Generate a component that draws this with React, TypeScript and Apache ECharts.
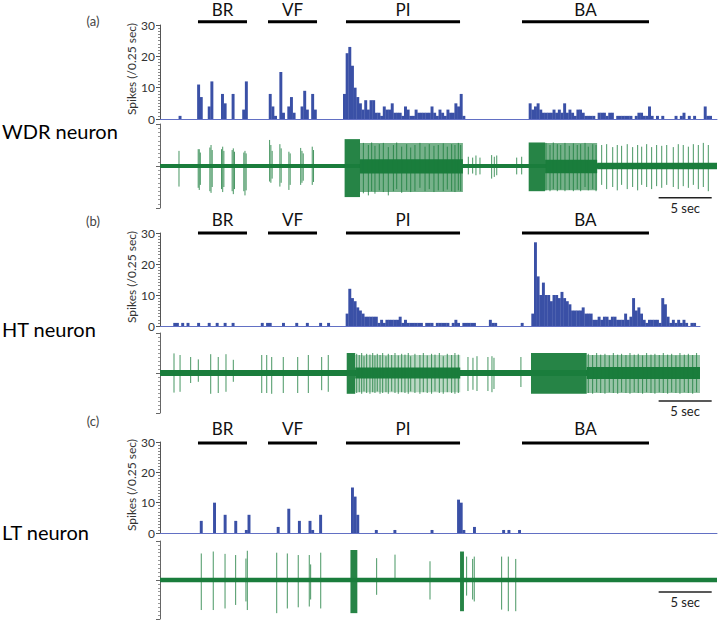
import React, { useEffect, useRef } from 'react';
import * as echarts from 'echarts';

// ---------- data ----------
const BIN_SEC = 0.25;
const stimNames = ['BR', 'VF', 'PI', 'BA'];
const stimStart = [3.58, 10.18, 17.53, 34.12];
const stimEnd = [8.2, 14.8, 28.28, 46.09];
const scaleBarStart = 47.0;
const scaleBarEnd = 52.0;
const scaleBarLabel = '5 sec';
const panelLetters = ['(a)', '(b)', '(c)'];
const neuronNames = ['WDR neuron', 'HT neuron', 'LT neuron'];
const yAxisTitle = 'Spikes (/0.25 sec)';
const recordLength = [52.5, 50.9, 52.5];
const spikeAxisMax = 30;
const spikeAxisStep = 10;

// histogram runs: [first bin index, counts per 0.25 s bin]
const wdrRuns: [number, number[]][] = [
  [7, [1]], [14, [11, 7]], [18, [4, 12]], [23, [8, 5]], [27, [8]], [31, [3, 12]],
  [41, [8, 4, 1]], [45, [15, 2]], [48, [4, 7, 2]], [53, [4, 9, 3]], [57, [8, 3]],
  [69, [8, 21, 23, 17, 10, 7, 5, 3, 6, 3, 6, 6, 2, 2, 1, 4, 3, 3, 5, 2, 2, 2, 1, 4, 3, 1, 1, 3, 2, 2, 2, 2, 2, 4, 2, 1, 3, 2, 1, 3, 2, 2, 5, 4, 8, 1]],
  [139, [5, 3, 4, 5, 3, 2, 2, 2, 2, 3, 2, 3, 2, 5, 2, 3, 2, 1, 3, 3, 2, 1, 1, 1, 1, 0, 2, 2, 2, 1, 2, 2, 0, 1, 1, 1, 1, 1, 1, 0, 1, 2, 2, 1, 1, 4, 1, 0, 1, 0, 1, 0, 0, 0, 0, 1, 0, 1, 2, 0, 1, 0, 1, 0, 0, 0, 4, 1, 1, 0, 0]],
];
const htRuns: [number, number[]][] = [
  [5, [1, 1]], [8, [1]], [10, [1]], [14, [1]], [18, [1]], [21, [1]], [24, [1]], [27, [1]],
  [38, [1]], [40, [1, 1]], [46, [1]], [51, [1]], [55, [1]], [60, [1]], [63, [1]],
  [70, [4, 12, 9, 8, 6, 5, 4, 3, 3, 3, 3, 3, 1, 2, 1, 2, 2, 2, 2, 2, 3, 1, 2, 1, 1, 1, 1, 1, 1, 0, 1, 1, 1, 0, 1, 1, 1, 1, 1, 0, 1, 2, 1, 0, 1, 1, 1, 1, 1]],
  [124, [2, 1, 1]], [136, [1]],
  [140, [4, 27, 16, 10, 14, 10, 10, 8, 10, 10, 9, 11, 9, 8, 7, 5, 5, 5, 5, 6, 4, 4, 4, 2, 2, 3, 2, 3, 3, 2, 3, 3, 2, 2, 2, 4, 2, 3, 9, 5, 6, 4, 2, 1, 2, 2, 2, 2, 1, 9, 7, 3, 1, 2, 1, 2, 1, 2, 1, 0, 1, 1]],
];
const ltRuns: [number, number[]][] = [
  [15, [4]], [20, [10]], [24, [6]], [28, [4]], [32, [1, 6]], [44, [2]], [48, [8]], [52, [4]],
  [56, [4, 1]], [60, [6]], [72, [15, 12, 6]], [81, [1]], [88, [1]], [102, [1]],
  [112, [11, 10, 1]], [118, [2]], [129, [1]], [131, [1]], [135, [1]],
];

// raw traces: noise [t0, t1, halfWidth], bursts [t0, t1, up, down, opacity], spikes [t, up, down]
const wdrNoise = [[0, 52.5, 0.045], [41.2, 52.5, 0.075]];
const wdrBursts = [
  [17.4, 18.85, 0.64, 0.74, 0.95], [18.85, 28.55, 0.55, 0.62, 0.6], [18.85, 28.55, 0.16, 0.18, 1],
  [34.75, 36.3, 0.56, 0.6, 0.95], [36.3, 41.2, 0.55, 0.58, 0.6], [36.3, 41.2, 0.15, 0.17, 1],
];
const wdrSpikes = [
  [1.79, 0.36, 0.49],
  [3.6, 0.4, 0.52], [3.7, 0.4, 0.57], [3.8, 0.32, 0.45],
  [4.7, 0.44, 0.6], [4.81, 0.5, 0.64], [4.92, 0.38, 0.5],
  [5.8, 0.4, 0.55], [5.91, 0.46, 0.62], [6.02, 0.36, 0.5],
  [6.8, 0.38, 0.6], [6.91, 0.42, 0.67], [7.02, 0.34, 0.55],
  [7.9, 0.32, 0.6], [8.01, 0.36, 0.7], [8.12, 0.3, 0.58],
  [10.33, 0.62, 0.37], [10.45, 0.5, 0.4], [10.57, 0.36, 0.3],
  [11.3, 0.52, 0.49], [11.42, 0.42, 0.4],
  [12.15, 0.34, 0.57], [12.27, 0.3, 0.45],
  [13.26, 0.43, 0.45], [13.38, 0.36, 0.4], [13.5, 0.3, 0.35],
  [14.35, 0.46, 0.45], [14.47, 0.38, 0.38],
  [19.17, 0.55, 0.65], [19.64, 0.5, 0.7], [19.95, 0.56, 0.6], [20.26, 0.48, 0.66], [20.67, 0.52, 0.58],
  [21.05, 0.55, 0.62], [21.52, 0.45, 0.7], [22.0, 0.5, 0.6], [22.31, 0.56, 0.55], [22.78, 0.46, 0.64],
  [23.25, 0.52, 0.58], [23.63, 0.44, 0.62], [24.03, 0.5, 0.6], [24.5, 0.55, 0.52], [24.98, 0.46, 0.6],
  [25.38, 0.52, 0.55], [25.82, 0.48, 0.62], [26.23, 0.5, 0.58], [26.7, 0.54, 0.6], [27.08, 0.46, 0.56],
  [27.49, 0.52, 0.6], [27.8, 0.5, 0.62], [28.12, 0.55, 0.58], [28.34, 0.5, 0.6],
  [29.06, 0.22, 0.2], [29.47, 0.2, 0.18], [29.78, 0.25, 0.22], [30.16, 0.2, 0.2], [31.26, 0.26, 0.3],
  [31.51, 0.22, 0.26], [31.74, 0.25, 0.22], [33.62, 0.2, 0.2], [34.09, 0.22, 0.2],
  [36.38, 0.55, 0.58], [36.76, 0.5, 0.6], [37.07, 0.56, 0.55], [37.45, 0.52, 0.6], [37.77, 0.5, 0.56],
  [38.17, 0.55, 0.6], [38.58, 0.48, 0.57], [38.96, 0.54, 0.6], [39.33, 0.5, 0.55], [39.65, 0.52, 0.6],
  [40.06, 0.55, 0.5], [40.37, 0.46, 0.58], [40.79, 0.52, 0.55], [41.1, 0.5, 0.6],
  [41.63, 0.5, 0.45], [42.1, 0.52, 0.55], [42.67, 0.45, 0.5], [43.1, 0.5, 0.58], [43.51, 0.48, 0.45],
  [44.04, 0.52, 0.55], [44.55, 0.45, 0.5], [45.02, 0.5, 0.58], [45.4, 0.46, 0.45], [45.87, 0.52, 0.5],
  [46.34, 0.45, 0.55], [46.81, 0.5, 0.48], [47.29, 0.48, 0.52], [47.76, 0.5, 0.45], [48.38, 0.45, 0.5],
  [48.85, 0.52, 0.55], [49.32, 0.5, 0.48], [49.8, 0.46, 0.52], [50.27, 0.52, 0.45], [50.74, 0.5, 0.55],
  [51.21, 0.55, 0.5], [51.68, 0.5, 0.6],
];

const htNoise = [[0, 50.9, 0.075]];
const htBursts = [
  [17.6, 18.4, 0.5, 0.52, 0.95], [18.4, 28.3, 0.45, 0.48, 0.3], [18.4, 28.3, 0.14, 0.14, 1],
  [34.97, 40.22, 0.5, 0.52, 0.95], [40.22, 50.9, 0.45, 0.5, 0.45], [40.22, 50.9, 0.15, 0.15, 1],
];
const htSpikes = [
  [1.32, 0.49, 0.49], [1.89, 0.45, 0.47], [2.89, 0.4, 0.25], [3.61, 0.34, 0.22], [4.78, 0.47, 0.52],
  [5.49, 0.4, 0.5], [6.22, 0.47, 0.47], [6.91, 0.33, 0.22], [9.59, 0.45, 0.5], [10.06, 0.45, 0.5],
  [10.53, 0.4, 0.52], [11.62, 0.4, 0.5], [12.98, 0.4, 0.5], [13.98, 0.45, 0.5], [15.24, 0.4, 0.43],
  [15.86, 0.45, 0.47],
  [18.54, 0.48, 0.5], [18.78, 0.45, 0.48], [19.01, 0.5, 0.52], [19.23, 0.42, 0.46], [19.48, 0.48, 0.5],
  [19.79, 0.46, 0.52], [20.05, 0.5, 0.48], [20.26, 0.44, 0.5], [20.48, 0.48, 0.46], [20.74, 0.45, 0.52],
  [20.99, 0.5, 0.5], [21.3, 0.42, 0.48], [21.52, 0.48, 0.52], [21.84, 0.45, 0.46], [22.15, 0.5, 0.5],
  [22.46, 0.44, 0.52], [22.78, 0.48, 0.48], [23.09, 0.46, 0.5], [23.4, 0.5, 0.52], [23.63, 0.42, 0.46],
  [24.03, 0.48, 0.5], [24.5, 0.45, 0.52], [24.82, 0.5, 0.48], [25.19, 0.44, 0.5], [25.6, 0.48, 0.52],
  [25.92, 0.46, 0.46], [26.33, 0.5, 0.5], [26.7, 0.42, 0.52], [27.08, 0.48, 0.48], [27.49, 0.45, 0.5],
  [27.8, 0.5, 0.52], [28.12, 0.46, 0.5],
  [29.03, 0.4, 0.45], [29.5, 0.38, 0.42], [29.88, 0.42, 0.45], [30.91, 0.4, 0.45], [31.29, 0.42, 0.48],
  [31.48, 0.38, 0.4], [34.02, 0.4, 0.35],
  [40.37, 0.48, 0.5], [40.78, 0.45, 0.52], [41.16, 0.5, 0.48], [41.54, 0.46, 0.5], [41.94, 0.48, 0.52],
  [42.35, 0.44, 0.48], [42.73, 0.5, 0.5], [43.14, 0.46, 0.52], [43.51, 0.48, 0.48], [43.92, 0.45, 0.5],
  [44.3, 0.5, 0.52], [44.7, 0.46, 0.48], [45.08, 0.48, 0.5], [45.49, 0.44, 0.52], [45.87, 0.5, 0.48],
  [46.28, 0.46, 0.5], [46.65, 0.48, 0.52], [47.06, 0.45, 0.48], [47.44, 0.5, 0.5], [47.85, 0.46, 0.52],
  [48.23, 0.48, 0.48], [48.63, 0.44, 0.5], [49.01, 0.5, 0.52], [49.42, 0.46, 0.48], [49.8, 0.48, 0.5],
  [50.21, 0.45, 0.52], [50.58, 0.5, 0.48],
];

const ltNoise = [[0, 52.5, 0.055]];
const ltBursts = [[17.95, 18.6, 0.77, 0.85, 0.95], [28.28, 28.65, 0.73, 0.8, 0.95]];
const ltSpikes = [
  [3.89, 0.68, 0.77], [5.02, 0.73, 0.77], [6.13, 0.67, 0.73], [7.13, 0.64, 0.64], [8.1, 0.55, 0.55],
  [8.23, 0.75, 0.77], [11.0, 0.7, 0.85], [12.0, 0.68, 0.73], [13.03, 0.64, 0.7], [14.07, 0.64, 0.68],
  [14.2, 0.4, 0.5], [15.15, 0.7, 0.73],
  [20.42, 0.56, 0.38], [22.15, 0.65, 0.05], [25.45, 0.48, 0.5], [28.9, 0.6, 0.4], [29.47, 0.54, 0.5],
  [29.62, 0.6, 0.55], [32.2, 0.6, 0.76], [32.83, 0.6, 0.8], [33.53, 0.54, 0.8],
];

const histRuns = [wdrRuns, htRuns, ltRuns];
const traceNoise = [wdrNoise, htNoise, ltNoise];
const traceBursts = [wdrBursts, htBursts, ltBursts];
const traceSpikes = [wdrSpikes, htSpikes, ltSpikes];

// ---------- layout / style ----------
const BLUE = '#3a50a6';
const GREEN = '#1a7d3c';
const FONT = 'Lato, "Open Sans", sans-serif';
const GRID_LEFT = 160;
const layout = [
  { hTop: 25, hH: 94, tTop: 124, tH: 84, width: 557, stimY: 31, labelGap: 12.5, scaleY: -0.755, letterY: 21, nameY: 130.5, titleY: 69 },
  { hTop: 233, hH: 93, tTop: 333, tH: 80, width: 540, stimY: 30, labelGap: 14, scaleY: -0.7, letterY: 221, nameY: 328.5, titleY: 277 },
  { hTop: 442, hH: 91, tTop: 541, tH: 78, width: 557, stimY: 29.7, labelGap: 14, scaleY: -0.31, letterY: 421, nameY: 531.5, titleY: 485 },
];

function runsToBins(runs: [number, number[]][]) {
  const out: number[][] = [];
  runs.forEach(([s, counts]) => counts.forEach((c, i) => { if (c > 0) out.push([(s + i) * BIN_SEC, c]); }));
  return out;
}

function buildOption() {
  const grid: any[] = [];
  const xAxis: any[] = [];
  const yAxis: any[] = [];
  const series: any[] = [];
  const graphic: any[] = [];

  layout.forEach((L, p) => {
    grid.push({ left: GRID_LEFT, top: L.hTop, width: L.width, height: L.hH });
    grid.push({ left: GRID_LEFT, top: L.tTop, width: L.width, height: L.tH });
    const hi = 2 * p, ti = 2 * p + 1;
    xAxis.push({
      gridIndex: hi, type: 'value', min: 0, max: recordLength[p],
      axisLine: { show: true, lineStyle: { color: '#6270c4', width: 1 } },
      axisTick: { show: false }, axisLabel: { show: false }, splitLine: { show: false },
    });
    xAxis.push({ gridIndex: ti, type: 'value', min: 0, max: recordLength[p], show: false, splitLine: { show: false } });
    yAxis.push({
      gridIndex: hi, type: 'value', min: 0, max: spikeAxisMax, interval: spikeAxisStep,
      axisLine: { show: true, lineStyle: { color: '#555', width: 1 } },
      axisTick: { show: true, length: 4, lineStyle: { color: '#555' } },
      minorTick: { show: true, splitNumber: 10, length: 2, lineStyle: { color: '#888' } },
      axisLabel: { show: true, fontSize: 12, color: '#333', margin: 5, fontFamily: FONT },
      splitLine: { show: false },
    });
    yAxis.push({
      gridIndex: ti, type: 'value', min: -1, max: 1, interval: 1,
      axisLine: { show: true, lineStyle: { color: '#666', width: 1 } },
      axisTick: { show: true, length: 4, lineStyle: { color: '#666' } },
      minorTick: { show: true, splitNumber: 10, length: 2, lineStyle: { color: '#999' } },
      axisLabel: { show: false }, splitLine: { show: false },
    });

    series.push({
      type: 'custom', xAxisIndex: hi, yAxisIndex: hi, data: runsToBins(histRuns[p]),
      renderItem: (params: any, api: any) => {
        const t = api.value(0), c = api.value(1);
        const a = api.coord([t, c]);
        const b = api.coord([t + BIN_SEC, 0]);
        return { type: 'rect', shape: { x: a[0], y: a[1], width: b[0] - a[0] + 0.3, height: b[1] - a[1] }, style: { fill: BLUE } };
      },
    });
    series.push({
      type: 'custom', xAxisIndex: hi, yAxisIndex: hi, clip: false,
      data: stimStart.map((s, i) => [s, stimEnd[i], L.stimY, i]),
      renderItem: (params: any, api: any) => {
        const a = api.coord([api.value(0), api.value(2)]);
        const b = api.coord([api.value(1), api.value(2)]);
        return {
          type: 'group', children: [
            { type: 'line', shape: { x1: a[0], y1: a[1], x2: b[0], y2: b[1] }, style: { stroke: '#000', lineWidth: 3 } },
            { type: 'text', x: (a[0] + b[0]) / 2, y: a[1] - L.labelGap, style: { text: stimNames[api.value(3)], fill: '#111', fontSize: 17, fontFamily: FONT, align: 'center', verticalAlign: 'middle' } },
          ],
        };
      },
    });
    series.push({
      type: 'custom', xAxisIndex: ti, yAxisIndex: ti, data: traceNoise[p],
      renderItem: (params: any, api: any) => {
        const a = api.coord([api.value(0), api.value(2)]);
        const b = api.coord([api.value(1), -api.value(2)]);
        return { type: 'rect', shape: { x: a[0], y: a[1], width: b[0] - a[0], height: b[1] - a[1] }, style: { fill: GREEN } };
      },
    });
    series.push({
      type: 'custom', xAxisIndex: ti, yAxisIndex: ti, data: traceBursts[p],
      renderItem: (params: any, api: any) => {
        const a = api.coord([api.value(0), api.value(2)]);
        const b = api.coord([api.value(1), -api.value(3)]);
        return { type: 'rect', shape: { x: a[0], y: a[1], width: b[0] - a[0], height: b[1] - a[1] }, style: { fill: GREEN, opacity: api.value(4) } };
      },
    });
    series.push({
      type: 'custom', xAxisIndex: ti, yAxisIndex: ti, data: traceSpikes[p],
      renderItem: (params: any, api: any) => {
        const a = api.coord([api.value(0), api.value(1)]);
        const b = api.coord([api.value(0), -api.value(2)]);
        return { type: 'line', shape: { x1: a[0], y1: a[1], x2: b[0], y2: b[1] }, style: { stroke: GREEN, lineWidth: 1, opacity: 0.8 } };
      },
    });
    series.push({
      type: 'custom', xAxisIndex: ti, yAxisIndex: ti, clip: false,
      data: [[scaleBarStart, scaleBarEnd, L.scaleY]],
      renderItem: (params: any, api: any) => {
        const a = api.coord([api.value(0), api.value(2)]);
        const b = api.coord([api.value(1), api.value(2)]);
        return {
          type: 'group', children: [
            { type: 'line', shape: { x1: a[0], y1: a[1], x2: b[0], y2: b[1] }, style: { stroke: '#222', lineWidth: 1.5 } },
            { type: 'text', x: (a[0] + b[0]) / 2, y: a[1] + 10, style: { text: scaleBarLabel, fill: '#222', fontSize: 13, fontFamily: FONT, align: 'center', verticalAlign: 'middle' } },
          ],
        };
      },
    });

    graphic.push({ type: 'text', x: 93, y: L.letterY, style: { text: panelLetters[p], fill: '#444', fontSize: 13, fontFamily: FONT, align: 'center', verticalAlign: 'middle' } });
    graphic.push({ type: 'text', x: 2, y: L.nameY, style: { text: neuronNames[p], fill: '#000', fontSize: 20, fontFamily: FONT, align: 'left', verticalAlign: 'middle' } });
    graphic.push({ type: 'text', x: 131, y: L.titleY, rotation: Math.PI / 2, style: { text: yAxisTitle, fill: '#333', fontSize: 12, fontFamily: FONT, align: 'center', verticalAlign: 'middle' } });
  });

  return { animation: false, backgroundColor: '#fff', grid, xAxis, yAxis, series, graphic };
}

export default function App() {
  const ref = useRef<HTMLDivElement>(null);
  useEffect(() => {
    if (!ref.current) return;
    const chart = echarts.init(ref.current, null, { renderer: 'svg' });
    chart.setOption(buildOption() as any);
    return () => chart.dispose();
  }, []);
  return <div ref={ref} style={{ width: 722, height: 621, position: 'absolute', left: 0, top: 0 }} />;
}
